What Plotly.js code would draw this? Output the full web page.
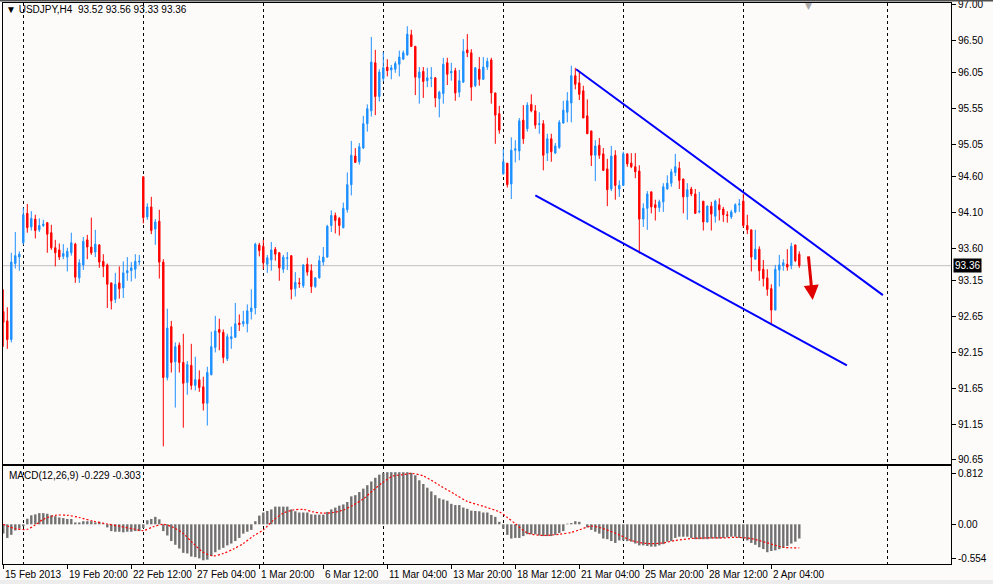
<!DOCTYPE html>
<html>
<head>
<meta charset="utf-8">
<script src="https://cdn.plot.ly/plotly-3.0.1.min.js"></script>
<style>
  html, body { margin: 0; padding: 0; background: #fdfafa; }
  #graf { width: 993px; height: 584px; }
</style>
</head>
<body>
<div id="graf"></div>
<script>
// USDJPY H4 bars (bar index = position on the chart)
var openP = [
  92.72, 92.59, 92.33, 93.39, 93.48, 93.68, 94.09, 93.90, 94.01, 93.86,
  93.92, 93.96, 93.82, 93.61, 93.58, 93.49, 93.48, 93.54, 93.66, 93.19,
  93.37, 93.72, 93.62, 93.55, 93.65, 93.42, 93.37, 93.12, 92.89, 93.12,
  93.05, 93.26, 93.29, 93.31, 93.41, 94.60, 94.04, 94.18, 93.87, 93.98,
  93.41, 91.80, 92.51, 92.02, 92.25, 92.01, 91.73, 91.97, 91.69, 91.77,
  91.67, 91.44, 91.84, 92.22, 92.47, 92.43, 92.06, 92.34, 92.36, 92.56,
  92.55, 92.55, 92.72, 92.77, 93.65, 93.63, 93.38, 93.44, 93.59, 93.54,
  93.31, 93.46, 93.50, 93.04, 93.12, 93.08, 93.38, 93.29, 93.07, 93.19,
  93.41, 93.48, 93.92, 94.06, 94.02, 93.89, 94.14, 94.49, 94.89, 94.81,
  95.00, 95.34, 95.52, 96.19, 95.72, 95.97, 96.13, 96.09, 96.10, 96.17,
  96.24, 96.30, 96.58, 96.42, 95.98, 96.07, 95.94, 95.97, 95.98, 95.69,
  95.76, 96.19, 96.05, 96.08, 95.78, 95.92, 96.37, 96.33, 95.87, 96.10,
  95.96, 96.13, 96.23, 95.77, 95.48, 94.64, 94.79, 94.50, 94.97, 94.96,
  95.39, 95.27, 95.61, 95.52, 95.33, 95.34, 94.93, 95.13, 94.93, 95.01,
  95.35, 95.50, 95.63, 96.01, 95.91, 95.80, 95.45, 95.24, 94.90, 95.04,
  94.92, 94.71, 94.43, 94.90, 94.43, 94.48, 94.92, 94.79, 94.74, 94.68,
  94.01, 94.16, 94.39, 94.21, 94.17, 94.25, 94.43, 94.51, 94.66, 94.72,
  94.57, 94.32, 94.43, 94.36, 94.11, 94.26, 93.97, 94.19, 94.05, 94.21,
  94.15, 94.07, 94.04, 94.11, 94.21, 94.26, 93.92, 93.86, 93.45, 93.59,
  93.31, 93.19, 93.04, 92.74, 93.30, 93.36, 93.38, 93.36, 93.65, 93.52
];
var highP = [
  93.03, 92.78, 93.54, 93.83, 93.56, 94.17, 94.22, 94.12, 94.07, 94.02,
  94.00, 93.97, 93.93, 93.72, 93.67, 93.66, 93.61, 93.82, 93.68, 93.45,
  93.76, 93.79, 94.03, 93.86, 93.66, 93.52, 93.39, 93.12, 93.26, 93.35,
  93.42, 93.48, 93.41, 93.52, 93.51, 94.60, 94.23, 94.32, 94.01, 94.14,
  93.45, 92.76, 92.59, 92.29, 92.29, 92.41, 92.03, 92.27, 92.09, 91.90,
  91.81, 91.95, 92.44, 92.66, 92.62, 92.47, 92.41, 92.51, 92.84, 92.68,
  92.73, 92.82, 93.03, 93.68, 93.68, 93.72, 93.51, 93.69, 93.62, 93.55,
  93.51, 93.55, 93.50, 93.27, 93.19, 93.38, 93.47, 93.38, 93.20, 93.50,
  93.62, 93.93, 94.13, 94.10, 94.04, 94.24, 94.66, 95.10, 95.00, 95.07,
  95.45, 95.61, 96.55, 96.37, 96.10, 96.34, 96.24, 96.16, 96.21, 96.36,
  96.36, 96.70, 96.65, 96.42, 96.13, 96.13, 96.12, 96.13, 95.99, 95.80,
  96.26, 96.26, 96.19, 96.12, 96.09, 96.52, 96.59, 96.38, 96.13, 96.27,
  96.27, 96.26, 96.26, 95.77, 95.59, 94.99, 94.79, 95.15, 95.11, 95.42,
  95.60, 95.64, 95.75, 95.60, 95.50, 95.39, 95.20, 95.20, 95.07, 95.39,
  95.66, 95.78, 96.15, 96.12, 96.06, 95.87, 95.68, 95.24, 95.11, 95.14,
  95.00, 94.85, 95.03, 94.97, 94.55, 94.95, 94.92, 94.93, 94.93, 94.76,
  94.23, 94.40, 94.39, 94.28, 94.28, 94.51, 94.62, 94.71, 94.92, 94.81,
  94.57, 94.51, 94.46, 94.43, 94.39, 94.26, 94.20, 94.25, 94.28, 94.30,
  94.18, 94.12, 94.14, 94.23, 94.29, 94.36, 94.07, 93.86, 93.86, 93.63,
  93.44, 93.31, 93.10, 93.37, 93.51, 93.45, 93.59, 93.68, 93.65, 93.56
];
var lowP = [
  92.23, 92.20, 92.29, 93.32, 93.29, 93.65, 93.82, 93.85, 93.74, 93.83,
  93.90, 93.54, 93.58, 93.35, 93.44, 93.45, 93.28, 93.50, 93.12, 93.12,
  93.30, 93.45, 93.51, 93.48, 93.33, 93.20, 92.77, 92.75, 92.84, 92.90,
  92.91, 93.15, 93.14, 93.18, 93.37, 93.95, 94.00, 93.80, 93.65, 93.18,
  90.84, 91.76, 91.87, 91.38, 91.87, 91.10, 91.56, 91.63, 91.62, 91.60,
  91.34, 91.13, 91.83, 92.15, 92.18, 92.00, 92.03, 92.20, 92.36, 92.45,
  92.51, 92.43, 92.61, 92.68, 93.49, 93.31, 93.26, 93.29, 93.43, 93.15,
  93.26, 93.30, 92.89, 92.93, 93.05, 93.05, 93.22, 92.98, 93.05, 93.18,
  93.36, 93.47, 93.83, 93.81, 93.78, 93.88, 94.10, 94.34, 94.80, 94.77,
  94.99, 95.23, 95.44, 95.46, 95.65, 95.93, 96.00, 95.96, 96.05, 96.00,
  96.23, 96.29, 96.41, 95.74, 95.62, 95.70, 95.85, 95.85, 95.57, 95.43,
  95.62, 95.88, 95.94, 95.66, 95.71, 95.91, 96.27, 95.66, 95.85, 95.87,
  95.95, 96.09, 95.62, 95.06, 95.20, 94.63, 94.45, 94.29, 94.80, 94.83,
  95.06, 95.23, 95.50, 95.27, 95.20, 94.69, 94.82, 94.81, 94.92, 94.99,
  95.34, 95.36, 95.36, 95.82, 95.67, 95.42, 95.20, 94.75, 94.54, 94.85,
  94.68, 94.19, 94.40, 94.28, 94.32, 94.47, 94.74, 94.72, 94.58, 93.53,
  93.90, 93.86, 94.09, 93.99, 94.11, 94.11, 94.42, 94.46, 94.61, 94.43,
  94.09, 94.00, 94.33, 94.08, 94.09, 93.85, 93.96, 93.85, 93.96, 93.99,
  93.97, 93.96, 94.01, 94.09, 94.11, 93.89, 93.80, 93.28, 93.45, 93.15,
  93.07, 92.94, 92.53, 92.74, 93.07, 93.29, 93.29, 93.31, 93.41, 93.33
];
var closeP = [
  92.57, 92.33, 93.41, 93.50, 93.52, 94.07, 93.89, 94.02, 93.85, 93.92,
  93.94, 93.80, 93.61, 93.54, 93.48, 93.53, 93.56, 93.68, 93.20, 93.40,
  93.70, 93.62, 93.54, 93.66, 93.41, 93.35, 93.10, 92.87, 93.10, 93.04,
  93.26, 93.29, 93.33, 93.42, 93.42, 94.03, 94.18, 93.85, 93.97, 93.41,
  91.80, 92.49, 92.01, 92.23, 92.01, 91.72, 91.98, 91.69, 91.77, 91.66,
  91.44, 91.87, 92.23, 92.45, 92.43, 92.08, 92.37, 92.37, 92.55, 92.54,
  92.58, 92.73, 92.77, 93.66, 93.57, 93.40, 93.47, 93.58, 93.52, 93.33,
  93.48, 93.47, 93.03, 93.13, 93.11, 93.37, 93.27, 93.07, 93.19, 93.43,
  93.48, 93.91, 94.06, 93.99, 93.92, 94.16, 94.49, 94.90, 94.80, 95.02,
  95.34, 95.55, 96.20, 95.72, 96.06, 96.12, 96.08, 96.12, 96.18, 96.27,
  96.33, 96.59, 96.42, 95.99, 96.06, 95.93, 95.98, 95.98, 95.70, 95.78,
  96.17, 96.03, 96.07, 95.77, 95.94, 96.35, 96.33, 95.85, 96.12, 95.96,
  96.13, 96.21, 95.77, 95.46, 95.25, 94.81, 94.49, 94.97, 94.99, 95.38,
  95.13, 95.60, 95.52, 95.32, 95.34, 94.90, 95.13, 94.95, 95.03, 95.36,
  95.53, 95.66, 96.01, 95.89, 95.75, 95.42, 95.20, 94.90, 95.03, 94.90,
  94.69, 94.42, 94.89, 94.48, 94.48, 94.92, 94.78, 94.74, 94.67, 94.01,
  94.16, 94.36, 94.18, 94.17, 94.25, 94.46, 94.51, 94.67, 94.74, 94.55,
  94.32, 94.42, 94.36, 94.09, 94.12, 93.97, 94.19, 94.08, 94.26, 94.14,
  94.07, 94.06, 94.11, 94.21, 94.22, 93.92, 93.86, 93.48, 93.59, 93.29,
  93.18, 93.03, 92.74, 93.31, 93.37, 93.40, 93.34, 93.63, 93.43, 93.36
];

// MACD(12,26,9) histogram per bar
var macdHist = [
  -0.15, -0.22, -0.17, -0.10, -0.07, -0.03, 0.09, 0.145, 0.16, 0.18,
  0.18, 0.17, 0.145, 0.13, 0.11, 0.10, 0.086, 0.086, 0.03, 0.03,
  0.05, 0.05, 0.05, 0.03, 0.04, 0.016, -0.05, -0.11, -0.12, -0.12,
  -0.13, -0.12, -0.12, -0.11, -0.11, -0.06, 0.065, 0.086, 0.12, 0.08,
  -0.11, -0.18, -0.27, -0.33, -0.39, -0.46, -0.47, -0.52, -0.53, -0.55,
  -0.58, -0.57, -0.51, -0.45, -0.41, -0.38, -0.34, -0.31, -0.27, -0.22,
  -0.15, -0.12, -0.09, 0.05, 0.14, 0.19, 0.215, 0.24, 0.285, 0.285,
  0.285, 0.285, 0.24, 0.21, 0.19, 0.19, 0.19, 0.16, 0.156, 0.156,
  0.156, 0.20, 0.24, 0.27, 0.30, 0.32, 0.36, 0.45, 0.47, 0.52,
  0.575, 0.63, 0.69, 0.75, 0.80, 0.83, 0.84, 0.84, 0.84, 0.84,
  0.84, 0.84, 0.83, 0.79, 0.71, 0.65, 0.59, 0.53, 0.47, 0.42,
  0.40, 0.38, 0.33, 0.31, 0.31, 0.27, 0.25, 0.22, 0.215, 0.21,
  0.19, 0.19, 0.15, 0.12, 0.04, -0.07, -0.17, -0.23, -0.22, -0.22,
  -0.19, -0.16, -0.16, -0.16, -0.18, -0.19, -0.19, -0.19, -0.17, -0.14,
  -0.11, 0.01, 0.02, 0.05, 0.04, 0.00, -0.05, -0.09, -0.12, -0.15,
  -0.23, -0.24, -0.27, -0.30, -0.26, -0.26, -0.27, -0.28, -0.31, -0.34,
  -0.34, -0.35, -0.36, -0.36, -0.34, -0.32, -0.28, -0.27, -0.22, -0.20,
  -0.20, -0.20, -0.22, -0.24, -0.24, -0.24, -0.24, -0.23, -0.23, -0.23,
  -0.22, -0.21, -0.20, -0.20, -0.22, -0.23, -0.26, -0.30, -0.33, -0.37,
  -0.40, -0.45, -0.43, -0.42, -0.40, -0.38, -0.35, -0.31, -0.28, -0.229
];

// signal line, read at sample bars
var signalBar = [0, 3, 6, 8, 10, 13, 16, 19, 22.5, 26, 29, 32.5, 35, 37.5, 40, 42.5, 45, 47.5, 50, 52.5,
  55, 57.5, 60, 62.5, 65, 67.5, 70, 72.5, 75, 77.5, 80, 82.5, 85, 87.5, 90, 92.5, 95, 97.5, 100, 102,
  105, 109, 113, 116, 120, 124, 126, 128, 131, 135, 139, 142, 144, 147, 150, 154, 157, 161, 165, 168,
  172, 176, 180, 183, 187, 191, 195, 199];
var signalVal = [0.00, -0.07, -0.08, -0.01, 0.08, 0.145, 0.145, 0.11, 0.05, 0.005, -0.03, -0.075, -0.10, -0.04, 0.00, -0.05, -0.15, -0.31, -0.45, -0.51,
  -0.47, -0.40, -0.31, -0.19, -0.09, 0.065, 0.18, 0.23, 0.24, 0.20, 0.18, 0.19, 0.23, 0.31, 0.41, 0.55, 0.68, 0.78, 0.80, 0.82,
  0.78, 0.63, 0.48, 0.37, 0.29, 0.20, 0.11, 0.01, -0.14, -0.18, -0.16, -0.13, -0.09, -0.03, -0.07, -0.17, -0.26, -0.31, -0.30, -0.26,
  -0.23, -0.22, -0.22, -0.21, -0.23, -0.30, -0.37, -0.38];

var dateTicks = [0, 16, 32, 48, 64, 80, 96, 112, 128, 144, 160, 176, 192];
var dateLabels = ['15 Feb 2013', '19 Feb 20:00', '22 Feb 12:00', '27 Feb 04:00', '1 Mar 20:00', '6 Mar 12:00',
  '11 Mar 04:00', '13 Mar 20:00', '18 Mar 12:00', '21 Mar 04:00', '25 Mar 20:00', '28 Mar 12:00', '2 Apr 04:00'];
var weekStarts = [5, 35, 65, 95, 125, 155, 185, 221];

var priceTicks = [97.00, 96.50, 96.05, 95.55, 95.05, 94.60, 94.10, 93.60, 93.15, 92.65, 92.15, 91.65, 91.15, 90.65];
var macdTicks = [0.812, 0.00, -0.554];
var macdTickText = ['0.812', '0.00', '-0.554'];

// trend channel drawn by hand on the chart [bar, price]
var upperLine = [[143.2, 96.10], [219.9, 92.95]];
var lowerLine = [[133.0, 94.34], [210.9, 91.97]];
var arrowLine = [[201.25, 93.51], [202.35, 92.88]];

var bary = openP.map(function (v, i) { return i; });
var last = bary.length - 1;
var pismo = 'Liberation Sans, Arial, sans-serif';
var rozsah = [-0.075, 236.925];

function nakresliGraf() {
    var sviecky = {
        type: 'candlestick',
        x: bary,
        open: openP,
        high: highP,
        low: lowP,
        close: closeP,
        xaxis: 'x',
        yaxis: 'y',
        increasing: { line: { color: '#1e90ff', width: 1 }, fillcolor: '#1e90ff' },
        decreasing: { line: { color: '#ff0000', width: 1 }, fillcolor: '#ff0000' },
        hoverinfo: 'skip'
    };

    var histogram = {
        type: 'bar',
        x: bary,
        y: macdHist,
        xaxis: 'x2',
        yaxis: 'y2',
        width: 0.6,
        marker: { color: '#707070', line: { width: 0 } },
        hoverinfo: 'skip'
    };

    var signal = {
        type: 'scatter',
        mode: 'lines',
        x: signalBar,
        y: signalVal,
        xaxis: 'x2',
        yaxis: 'y2',
        line: { color: '#ff0000', width: 1.2, dash: '2px,2px', shape: 'spline', smoothing: 0.8 },
        hoverinfo: 'skip'
    };

    var mriezka = {
        tickmode: 'array',
        tickvals: weekStarts,
        showgrid: true,
        gridcolor: '#000000',
        gridwidth: 1,
        griddash: '3px,3px',
        ticks: ''
    };

    var osY = {
        side: 'right',
        showline: true,
        mirror: true,
        linecolor: '#000000',
        linewidth: 1,
        showgrid: false,
        zeroline: false,
        ticks: 'outside',
        ticklen: 4,
        tickcolor: '#000000',
        ticklabeloverflow: 'allow',
        tickfont: { family: pismo, size: 10, color: '#000000' }
    };

    // date labels sit to the right of their tick, like in the terminal
    var popisy = dateTicks.map(function (b, i) {
        return { xref: 'x2', yref: 'paper', x: b, y: -0.0196, xanchor: 'left', yanchor: 'middle',
                 xshift: 0, showarrow: false, text: dateLabels[i],
                 font: { family: pismo, size: 10, color: '#000000' } };
    });

    var layout = {
        width: 993,
        height: 584,
        margin: { l: 3, r: 42, t: 3, b: 20 },
        paper_bgcolor: '#fdfafa',
        plot_bgcolor: '#fdfafa',
        showlegend: false,
        hovermode: false,
        boxgap: 0.5,
        font: { family: pismo, size: 10, color: '#000000' },
        xaxis: {
            anchor: 'y',
            range: rozsah,
            showticklabels: false,
            ticks: '',
            showline: true,
            mirror: true,
            linecolor: '#000000',
            showgrid: false,
            zeroline: false,
            minor: mriezka,
            rangeslider: { visible: false }
        },
        xaxis2: {
            anchor: 'y2',
            matches: 'x',
            range: rozsah,
            tickmode: 'array',
            tickvals: dateTicks,
            showticklabels: false,
            ticks: 'outside',
            ticklen: 4,
            tickcolor: '#000000',
            showline: true,
            mirror: true,
            linecolor: '#000000',
            showgrid: false,
            zeroline: false,
            minor: mriezka,
            rangeslider: { visible: false }
        },
        yaxis: Object.assign({}, osY, {
            anchor: 'x',
            domain: [0.1783, 1],
            range: [90.594, 97.024],
            tickmode: 'array',
            tickvals: priceTicks,
            ticktext: priceTicks.map(function (v) { return v.toFixed(2); })
        }),
        yaxis2: Object.assign({}, osY, {
            anchor: 'x2',
            domain: [0, 0.1747],
            range: [-0.64, 0.94],
            tickmode: 'array',
            tickvals: macdTicks,
            ticktext: macdTickText
        }),
        shapes: [
            { type: 'line', xref: 'paper', yref: 'y', x0: 0, x1: 1, y0: closeP[last], y1: closeP[last],
              line: { color: '#c0c0c0', width: 1 }, layer: 'below' },
            { type: 'line', xref: 'x', yref: 'y', x0: upperLine[0][0], y0: upperLine[0][1], x1: upperLine[1][0], y1: upperLine[1][1],
              line: { color: '#0000ff', width: 2 } },
            { type: 'line', xref: 'x', yref: 'y', x0: lowerLine[0][0], y0: lowerLine[0][1], x1: lowerLine[1][0], y1: lowerLine[1][1],
              line: { color: '#0000ff', width: 2 } },
            { type: 'line', xref: 'paper', yref: 'paper', x0: -0.01, x1: 1.05, y0: 1.0045, y1: 1.0045,
              line: { color: '#505050', width: 2 } },
            { type: 'rect', xref: 'paper', yref: 'paper', x0: -0.01, x1: 1.05, y0: -0.0285, y1: -0.04,
              fillcolor: '#ececec', line: { width: 0 } }
        ],
        annotations: popisy.concat([
            { xref: 'paper', yref: 'paper', x: 0, y: 0.9893, xanchor: 'left', yanchor: 'middle', xshift: 1, showarrow: false,
              text: '\u25BC USDJPY,H4\u00a0\u00a0' + openP[last].toFixed(2) + ' ' + highP[last].toFixed(2) + ' ' +
                    lowP[last].toFixed(2) + ' ' + closeP[last].toFixed(2),
              font: { family: pismo, size: 10, color: '#000000' } },
            { xref: 'paper', yref: 'paper', x: 0, y: 0.1569, xanchor: 'left', yanchor: 'middle', xshift: 4, showarrow: false,
              text: 'MACD(12,26,9) ' + macdHist[last].toFixed(3) + ' -0.303',
              font: { family: pismo, size: 10, color: '#000000' } },
            { xref: 'paper', yref: 'y', x: 1, y: closeP[last], xanchor: 'left', yanchor: 'middle', xshift: 2, showarrow: false,
              text: closeP[last].toFixed(2), bgcolor: '#000000', borderpad: 1,
              font: { family: pismo, size: 10, color: '#ffffff' } },
            { xref: 'x', yref: 'paper', x: 201.2, y: 0.9955, yanchor: 'middle', showarrow: false,
              text: '\u25BC', font: { family: 'DejaVu Sans', size: 9, color: '#a8a8a8' } },
            { xref: 'x', yref: 'y', axref: 'x', ayref: 'y',
              x: arrowLine[1][0], y: arrowLine[1][1], ax: arrowLine[0][0], ay: arrowLine[0][1],
              text: '', showarrow: true, arrowhead: 2, arrowsize: 1, arrowwidth: 3, arrowcolor: '#e00000' }
        ])
    };

    Plotly.newPlot('graf', [sviecky, histogram, signal], layout, { staticPlot: true, displayModeBar: false });
}

nakresliGraf();
</script>
</body>
</html>
